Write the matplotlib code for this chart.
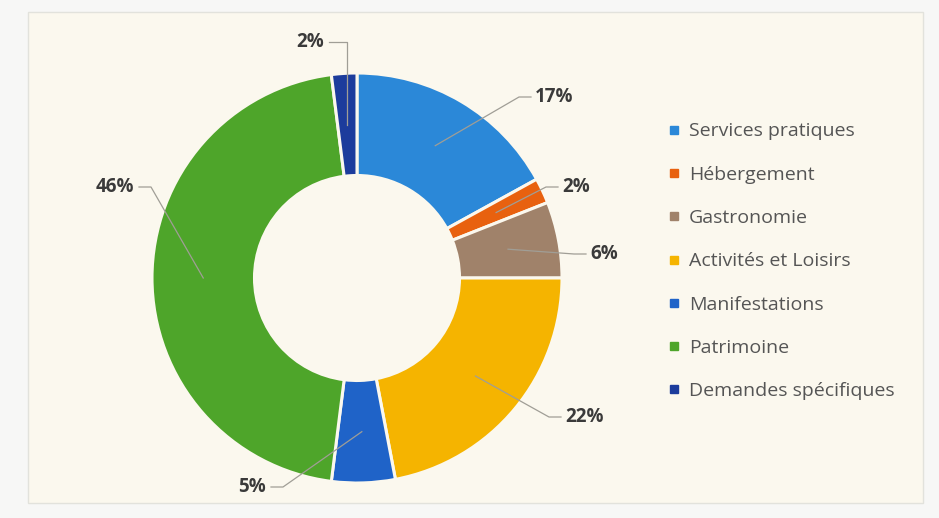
import numpy as np
import matplotlib.pyplot as plt
from matplotlib.patches import Rectangle
from matplotlib.lines import Line2D

# categories and shares (%)
categories = ["Services pratiques", "Hébergement", "Gastronomie",
              "Activités et Loisirs", "Manifestations", "Patrimoine",
              "Demandes spécifiques"]
shares = [17, 2, 6, 22, 5, 46, 2]
labels = ["17%", "2%", "6%", "22%", "5%", "46%", "2%"]
colors = ["#2b88d8", "#e8610f", "#a0826a", "#f5b400", "#1f63c8", "#4ea52a", "#1c3c9c"]

# label anchor (edge of the text nearest the pie, pixels from top-left)
label_pos = [(535, 97), (562, 187), (590, 254), (565, 417), (266, 487), (134, 187), (324, 42)]
label_side = ["l", "l", "l", "l", "r", "r", "r"]

W, H = 939, 518
fig = plt.figure(figsize=(W / 100, H / 100), dpi=100)
fig.patch.set_facecolor("#f7f7f6")
fig.patches.append(Rectangle((28 / W, 1 - 503 / H), 895 / W, 491 / H,
                             transform=fig.transFigure, facecolor="#fbf8ee",
                             edgecolor="#e2e2dc", lw=1, zorder=-1))

ax = fig.add_axes([0, 0, 1, 1])
ax.patch.set_alpha(0)
ax.set_zorder(2)

cx, cy, R = 357, H - 278, 205
wedges, _ = ax.pie(shares, colors=colors, startangle=90, counterclock=False,
                   radius=R, center=(cx, cy),
                   wedgeprops=dict(width=R * 0.5, edgecolor="#fbf8ee", linewidth=2.2))
ax.set_xlim(0, W)
ax.set_ylim(0, H)
ax.set_aspect("equal")
ax.axis("off")

for w, lab, (lx, ly), side in zip(wedges, labels, label_pos, label_side):
    ly = H - ly
    mid = np.deg2rad((w.theta1 + w.theta2) / 2)
    r = R * 0.75
    sx = cx + r * np.cos(mid)
    sy = cy + r * np.sin(mid)
    if side == "l":
        ha = "left"
        ex = lx - 4
        elx = ex - 12
    else:
        ha = "right"
        ex = lx + 5
        elx = ex + 12
    if ly > H - 60:
        elx = sx
    ax.plot([sx, elx, ex], [sy, ly, ly], color="#a09e96", lw=0.9, zorder=5)
    ax.text(lx, ly, lab, ha=ha, va="center", fontsize=13.5, fontweight="bold",
            color="#3a3a3a", family="Open Sans")

handles = [Line2D([], [], marker="s", linestyle="", markersize=5.5,
                  markerfacecolor=c, markeredgecolor=c) for c in colors]
leg = fig.legend(handles, categories, loc="upper left",
                 bbox_to_anchor=(651 / W, 1 - 105 / H), frameon=False,
                 handlelength=0.6, handletextpad=0.45, labelspacing=1.30,
                 prop=dict(family="Open Sans", size=14))
for t in leg.get_texts():
    t.set_color("#555555")

fig.savefig("out.png", dpi=100, facecolor=fig.get_facecolor())
